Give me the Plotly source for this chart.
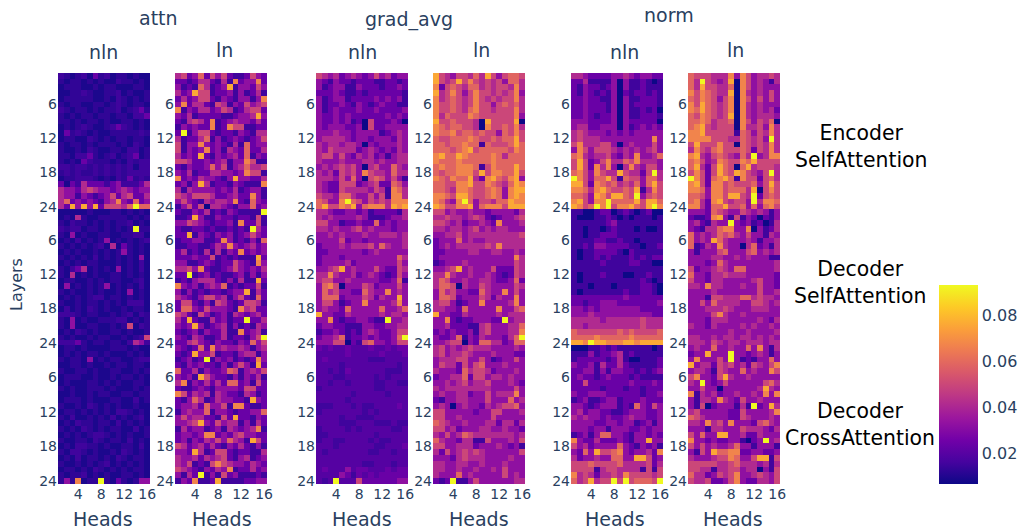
import plotly.graph_objects as go
from plotly.subplots import make_subplots

ATTN_NLN_ENC = ["1cac 1a2c 1acc acaa","cacc acac aa1c caca","accc aaca ccaa acca","aacc 1caa cc1a caac","accc ccaa ca1c acac","cacc aacc ac1c acca","1cac caca cc1a c12c","caca ccac cacc a112","ccac acca caac caca","acac 1caa c121 caca","a2c1 caca accc cc1c","acca a1ca cacc acca","cacc acac ccac a1ca","caac a1ca acca 11ac","cca1 12ca c1ac 12ac","caca 21cc caca 1c11","11c1 1c1c 1c1c 1a11","c1c1 cc1c 1c1c 1111","acc1 11ca ca1c 2c1c","2a21 4222 1231 1124","4332 4543 3234 3233","4331 3212 3524 5224","4623 2321 3473 2623","4283 8382 5554 6966"]
ATTN_NLN_DEC = ["aaaa acaa acca caca","aca4 caac cccc acac","ca1c caca cacc 1aca","1c11 acca caca c9cc","ca3a caac caac c11a","aca1 acac 3aca cac1","caca cac1 a4a2 caca","acac aaca cac3 caca","caca ca1a caca ca3a","acac acca aaca ca1a","ca12 4aca ca3a ca1a","ca4a caca acca caca","acca acac acca ac1a","a3ac acac 3aca ca1a","caca acac aaca 3aca","acac ac11 acca caca","caac acca caca 111a","a1ac a1ca caac acca","111c acca acac 1a1c","ca3a caac cc11 acac","ca3a acca acac 5a1c","aca1 caca acca caac","caca acac caac ac15","1112 cacc acca 1431"]
ATTN_NLN_CROSS = ["acca caaa accc acaa","acac acca caaa caca","cacc a3ac acca ac11","aacc acaa cacc acca","caac caca acca acac","accc aaca acac caca","acaa acca caca acca","caca accc acaa acac","aaca acac caac cacc","accc acaa acca a1ac","caac a1ca caca acaa","acca caca ca11 caca","ca1a acac a1ac ac1a","aca1 ccac ca1a caca","caca 1cac acca a1ac","acac ac11 caca caac","caac ca1c acca 1aca","aca1 1cca caac ca1a","ca11 caca aca1 caca","aca1 acca ca1c acca","caac acac 1aca caca","acca ca1c acac acca","cacc 1aca caac caca","c3c7 acc9 ca2c ac33"]
ATTN_LN_ENC = ["4523 6253 5211 2532","2212 4421 4172 3372","3121 6412 3813 3253","4238 5512 2313 1241","2423 5521 3213 3137","3724 4215 4132 5345","7132 4423 5412 4552","3241 2222 1123 3483","2145 4271 2343 3242","1323 2271 2755 1122","2913 5521 2213 2144","4122 4613 1232 1235","5133 7323 2141 6233","5132 3723 1432 6224","4232 8213 2342 6132","5542 2323 4133 7511","2132 2363 5134 6445","3241 2244 3323 7551","7232 4332 1383 3224","2313 8412 2132 1117","4143 3332 3241 2331","5435 5542 2342 2731","3532 1434 4372 1632","1352 5044 3213 3623"]
ATTN_LN_DEC = ["2113 2412 1321 1119","1128 3113 2212 2151","3354 3212 2317 2251","2112 2121 1212 1942","2281 3213 2312 3532","1223 3112 7312 1316","1122 1124 3732 3423","2412 1414 1327 2323","2223 2251 2121 1182","3311 2321 2253 2173","4453 7211 2353 2324","2291 2312 1123 1313","1213 4442 1314 1182","7323 1343 6121 2251","3131 2122 1233 8142","4321 3553 4135 2162","2552 1315 4212 5541","2663 2533 3217 4522","5421 5312 3143 2342","4282 1142 3122 9224","3238 3123 4131 2143","2123 1322 4117 2341","3214 3112 4122 1359","2245 3213 2213 2635"]
ATTN_LN_CROSS = ["3212 6273 4334 3134","2128 3351 2213 4413","1231 2913 2312 1273","2132 3221 3135 3182","6224 1322 3651 3435","3231 8532 2131 3241","4713 2424 2662 3152","2112 3213 3332 5522","7524 3414 3221 4312","2136 4124 3322 1832","2334 2633 5177 2112","1343 3613 3212 2336","3534 4221 5282 2132","3345 8325 3441 3142","1423 3123 1432 3471","2332 3772 3245 3322","2313 2435 3643 1852","5423 4242 1324 2131","3328 4125 5212 2114","4334 2434 5213 4123","4351 2157 5433 2432","5432 1324 3712 2423","3142 9131 5231 1121","1327 1128 1111 2233"]

GRAD_NLN_ENC = ["5434 2343 2353 4233","3213 2212 2211 2212","3123 3113 2221 2232","2223 2112 1222 2221","3123 3122 2232 3231","3122 3213 2123 2211","3123 2223 2232 2223","3223 2322 2222 3232","3223 2312 0522 2320","3233 3223 0522 3333","3334 3323 3331 2343","3444 4323 3233 3243","4344 3443 0323 3343","4354 4442 3432 3243","4553 5324 3423 1344","4333 4333 4434 3344","3434 5453 0453 3643","4342 5453 7544 3644","4443 5363 0565 3531","4322 5552 3452 2653","4322 5444 4354 1764","5443 6643 3535 1774","6533 7965 3545 4777","6855 7683 6777 4878"]
GRAD_LN_ENC = ["8543 5546 4853 5665","8545 8575 4545 3664","7256 5466 4545 5474","8457 5357 5545 4573","7456 5457 5454 5574","7556 5457 5535 6564","7556 5467 5545 5574","7465 5576 5555 5573","8556 5554 0855 5580","7656 6554 0755 6574","7667 5665 6553 6575","6556 6676 5565 6685","6656 6766 1655 5686","6665 6785 6666 6576","7866 8766 6676 4666","7666 7666 6676 6666","6766 7776 1576 6686","6566 7775 8577 6685","7657 6684 2786 5783","6655 7785 5765 4687","6654 7765 5676 3788","7765 8865 5676 3787","7643 7963 5546 6877","8755 7783 6777 5888"]
GRAD_NLN_DEC = ["4432 2332 3122 2214","4343 3334 3111 2334","5533 1223 2262 3233","4434 3345 3433 3233","3343 4333 4334 4434","3333 5233 2333 3334","2333 4344 4536 4334","2233 3333 2343 3333","2333 2333 3333 3364","2333 3423 3333 3353","3345 8343 3353 2254","4474 3342 3432 1253","4553 3433 3332 2361","3675 0333 5423 3353","3645 3322 6433 7343","3666 2333 5424 3383","3553 1233 7333 3473","3433 2633 3336 3346","8332 2433 3334 3443","3372 1223 3211 9334","2332 2111 3322 3344","1223 2121 3432 2355","2334 6122 3232 2369","3335 5021 5633 2355"]
GRAD_LN_DEC = ["5534 3343 3233 3324","4454 4345 4212 3345","5543 4233 4327 3334","4434 4345 3434 4333","3344 5344 4444 4445","2333 6343 3444 4444","2343 4444 4547 4444","2233 3344 3344 3343","2333 3333 3333 3374","1233 3433 3333 3354","3345 8343 3352 2254","4474 3343 3432 1254","4653 3433 4432 2362","4665 0433 5433 3354","3645 3322 6433 7353","3665 2333 5424 3373","4553 1233 7333 3473","4433 2633 3337 3356","8332 2433 3334 3444","3372 1223 3322 9344","3342 2211 4533 3446","2323 2231 4533 3447","3223 6132 4333 2469","3345 5032 6644 2366"]
GRAD_NLN_CROSS = ["2b2b b2bb b2bb 2b22","bbbb b2bb bbb2 bbb2","b2bb bbbb b111 bbbb","bbbb 1bbb bbbb bb1b","bb1b 12bb bbbb 111b","bbb1 1bbb bb1b 1bbb","bb1b b1bb bb11 bb11","1bbb bbbb bb11 bbbb","bbbb bb1b bbbb 1bbb","bbbb b1bb bbbb bbbb","111b bb1b 11bb bb2b","1bbb bbbb 1b1b bbbb","bbbb 1bb1 11bb bbbb","bbbb 111b bb11 1b11","1bbb b1b1 bbbb b11b","11bb bbbb bb1b bbbb","1bb1 1bbb b1b1 1bbb","bbb1 bbbb bb11 bbb2","b1bb bbbb b11b b1bb","bbbb bbbb bbbb bbbb","bbbb bbbb 11bb b1bb","b2bb b3b2 2bbb 2b22","bbbb 3212 b2b2 2222","b1b9 bbb5 2222 2233"]
GRAD_LN_CROSS = ["4534 3454 4433 3343","4534 4543 3343 3322","3444 5533 5312 3353","3544 2535 6333 4333","4333 2645 5423 3343","2334 4625 5344 3433","3343 4534 4533 3432","4344 4444 4433 3353","3433 4423 3534 4473","2133 4433 3533 3634","3430 3433 2434 5563","5533 3332 3355 3334","5533 4333 3353 3333","6543 3433 3442 4424","5534 2333 4433 4332","4353 4654 4444 4434","6433 2441 1533 3435","5533 4442 3334 3231","4253 4545 4333 3335","3332 4544 4333 3433","4433 4433 4333 4333","4433 4334 3343 5333","4333 6343 3333 5343","2129 1135 3333 3344"]

NORM_NLN_ENC = ["4432 2223 3432 3322","2241 1113 0311 2101","2132 2123 0311 2111","2132 1213 0212 2121","2232 2113 0311 2221","2232 2213 0312 2221","2232 2213 0311 2120","2232 1223 0311 2221","3332 2223 0322 2220","3442 2333 0312 3232","4543 3323 2323 3333","4544 4333 3333 3373","5744 4553 0343 3353","3753 5554 3434 3453","6743 4453 2437 3346","5852 3574 4657 4443","5852 7473 0474 3553","6753 7544 8544 2594","9753 6685 1655 3664","8852 7656 4546 3685","7764 7865 5658 1475","6653 8758 8659 3565","7853 7796 6668 5886","8756 9795 7786 5897"]
NORM_LN_ENC = ["6555 4447 3753 4454","6495 4348 0753 4314","6485 5446 0753 4333","7576 5448 0743 4353","6576 5357 0753 5353","7586 5457 0743 4333","7686 5457 0743 4342","6576 5458 0743 4443","6676 4556 0753 5460","6785 4555 0744 5374","7785 5555 1653 5474","7777 5554 4654 5394","5855 5755 0654 5474","4754 6755 5652 5474","7843 5654 3649 3477","6753 4765 5768 5555","6842 5865 0684 5554","5752 5865 8754 3594","9752 6786 1755 2564","7852 7756 5556 3585","7763 7756 6648 0575","6653 7758 8549 2565","6742 7854 5539 4776","7742 6685 5636 3675"]
NORM_NLN_DEC = ["1100 1220 1210 1200","1000 1121 0101 1101","1111 1123 1111 1111","1101 1012 1110 1001","1101 1222 1111 1111","1111 2211 2110 1111","1121 3322 2211 0112","1011 2222 1021 1111","1011 2121 1121 2122","1111 1211 1122 1100","1111 1111 1111 1111","1011 1211 1001 1211","1011 1111 1111 2101","1110 1110 1111 2210","1011 1111 1211 2210","2222 2222 2322 2222","2212 2333 2222 2223","3323 2333 3333 2222","3334 3333 3333 3322","4444 4344 4444 5444","4434 4444 4444 5444","6555 5555 6565 5556","6666 7666 6676 6666","8879 8877 7887 8888"]
NORM_LN_DEC = ["3332 6543 3543 4313","2112 7831 5132 0213","3421 4339 3231 2014","3214 4677 3370 3124","6343 4656 4353 3143","6343 8643 3343 1334","6124 3743 3046 2314","3133 3563 3356 3434","3333 4433 4343 3311","3332 3643 3333 3334","5233 4543 6633 3334","6332 4454 4433 3332","5332 4433 3334 5332","4437 4433 3433 5332","3333 4333 3333 5334","3331 5544 4664 5443","3353 6444 4335 5434","3334 4454 3334 4433","3333 5743 3433 3333","3332 4443 3333 4324","4332 4333 3434 3343","3333 3334 3343 3334","4433 4344 3443 4343","4443 5434 4344 4344"]
NORM_NLN_CROSS = ["0001 1212 1111 1101","1113 1223 4121 1111","1222 2212 4100 1112","3223 1422 4211 1112","2233 1313 3221 2123","2322 1232 2212 1111","2252 2222 2232 2232","2222 2122 2122 1222","3223 3322 2222 1223","1231 1233 1222 3222","3321 2333 1216 3253","3423 3221 1233 3223","4343 3232 2343 3223","3333 2233 2331 2313","3332 3313 3322 3233","1231 3663 3213 3232","7322 4222 3213 3833","5342 3333 6321 3231","3263 8556 7323 3427","4233 4336 6338 8523","5556 5555 6444 4524","5555 1455 4444 1515","7454 2445 4755 5545","6458 4559 5956 6659"]
NORM_LN_CROSS = ["3433 6334 3363 7314","2338 3339 3323 4313","3733 3539 3121 3363","8344 2545 3425 4357","3443 1543 3634 3375","5733 2584 3343 3333","4393 2353 3333 3564","3353 3033 3333 4843","7143 4233 4334 3737","3144 3743 2533 4333","3150 2333 1419 2384","4533 3332 2533 3347","6543 3332 2543 3343","4437 4537 3332 5643","3331 4433 3544 4324","5363 3883 3422 4333","7332 3223 3102 3934","5353 4334 6331 3331","3153 8667 7223 3223","4333 4557 6335 8815","5555 5445 6444 3414","5544 1445 5344 0315","6442 3545 7334 5435","5445 2235 7322 4435"]

COL_TITLES = ["attn", "grad_avg", "norm"]
SUB_TITLES = ["nln", "ln", "nln", "ln", "nln", "ln"]
ROW_TITLES = ["Encoder<br>SelfAttention", "Decoder<br>SelfAttention", "Decoder<br>CrossAttention"]
TICKS_X = [4, 8, 12, 16]
TICKS_Y = [6, 12, 18, 24]
HEADS = list(range(1, 17))
LAYERS = list(range(1, 25))
ZMIN, ZMAX = 0.0067, 0.0933

PANELS = [
    [ATTN_NLN_ENC, ATTN_LN_ENC, GRAD_NLN_ENC, GRAD_LN_ENC, NORM_NLN_ENC, NORM_LN_ENC],
    [ATTN_NLN_DEC, ATTN_LN_DEC, GRAD_NLN_DEC, GRAD_LN_DEC, NORM_NLN_DEC, NORM_LN_DEC],
    [ATTN_NLN_CROSS, ATTN_LN_CROSS, GRAD_NLN_CROSS, GRAD_LN_CROSS, NORM_NLN_CROSS, NORM_LN_CROSS],
]

W, H = 1021, 530
MR, MB = 50, 46
PW, PH = W - MR, H - MB
FONT = "DejaVu Sans"
INK = "#2a3f5f"
COL_PX = [(58, 150), (175, 267), (316, 408), (433, 525), (571, 663), (688, 780)]
ROW_PX = [(73, 209.5), (209, 345.5), (345, 484)]
# symbols are shades, as a fraction of its range
SHADES = {"0": 0.0, "a": 0.03, "c": 0.07, "1": 0.1, "b": 0.15, "2": 0.2, "3": 0.3, "4": 0.4,
          "5": 0.5, "6": 0.6, "7": 0.7, "8": 0.8, "9": 1.0}


def decode(rows):
    out = [[ZMIN + SHADES[c] * (ZMAX - ZMIN) for c in r.replace(" ", "")] for r in rows]
    assert len(out) == 24 and all(len(r) == 16 for r in out), [len(r) for r in out]
    return out


fig = make_subplots(rows=3, cols=6)
for r in range(3):
    for c in range(6):
        fig.add_trace(go.Heatmap(z=decode(PANELS[r][c]), x=HEADS, y=LAYERS, coloraxis="coloraxis",
                                 hovertemplate="%{x} %{y} %{z}<extra></extra>"), row=r + 1, col=c + 1)
        fig.update_xaxes(domain=[COL_PX[c][0] / PW, COL_PX[c][1] / PW], tickvals=TICKS_X, showgrid=False,
                         zeroline=False, showline=False, ticks="", tickfont=dict(size=14, color=INK),
                         showticklabels=(r == 2), range=[0.5, 16.5], row=r + 1, col=c + 1)
        fig.update_yaxes(domain=[1 - ROW_PX[r][1] / PH, 1 - ROW_PX[r][0] / PH], tickvals=TICKS_Y, showgrid=False,
                         zeroline=False, showline=False, ticks="", tickfont=dict(size=14, color=INK),
                         range=[24.5, 0.5], row=r + 1, col=c + 1)


def note(text, x, y, size, color=INK, angle=0):
    fig.add_annotation(text=text, x=x / PW, y=1 - y / PH, xref="paper", yref="paper", showarrow=False,
                       xanchor="center", yanchor="middle", textangle=angle,
                       font=dict(size=size, color=color, family=FONT))


for t, (x, y) in zip(COL_TITLES, [(158, 18), (409, 20), (669, 15)]):
    note(t, x, y, 19)
for t, (x, y) in zip(SUB_TITLES, [(103, 52), (224, 50), (362, 52), (481, 50), (624, 52), (735, 50)]):
    note(t, x, y, 19)
for x, y in [(103, 519), (222, 519), (362, 519), (479, 519), (615, 519), (733, 519)]:
    note("Heads", x, y, 19)
note("Layers", 16, 285, 16, angle=-90)
for t, (x, y) in zip(ROW_TITLES, [(861, 147), (860, 282), (860, 424)]):
    note(t, x, y, 20.4, color="black")

fig.update_layout(
    width=W, height=H, autosize=False, margin=dict(l=0, r=MR, t=0, b=MB), plot_bgcolor="white", paper_bgcolor="white",
    font=dict(family=FONT),
    coloraxis=dict(cmin=ZMIN, cmax=ZMAX, colorscale="Plasma", colorbar=dict(
        x=939 / PW, xanchor="left", y=1 - 484 / PH, yanchor="bottom", lenmode="pixels", len=199,
        thicknessmode="pixels", thickness=39, outlinewidth=0, ticks="", ypad=0, xpad=0,
        tickvals=[0.02, 0.04, 0.06, 0.08], ticktext=["0.02", "0.04", "0.06", "0.08"],
        tickfont=dict(size=16, color=INK))),
)
fig.write_html("out.html", config={"displayModeBar": False}, post_script="document.body.style.margin='0';")
